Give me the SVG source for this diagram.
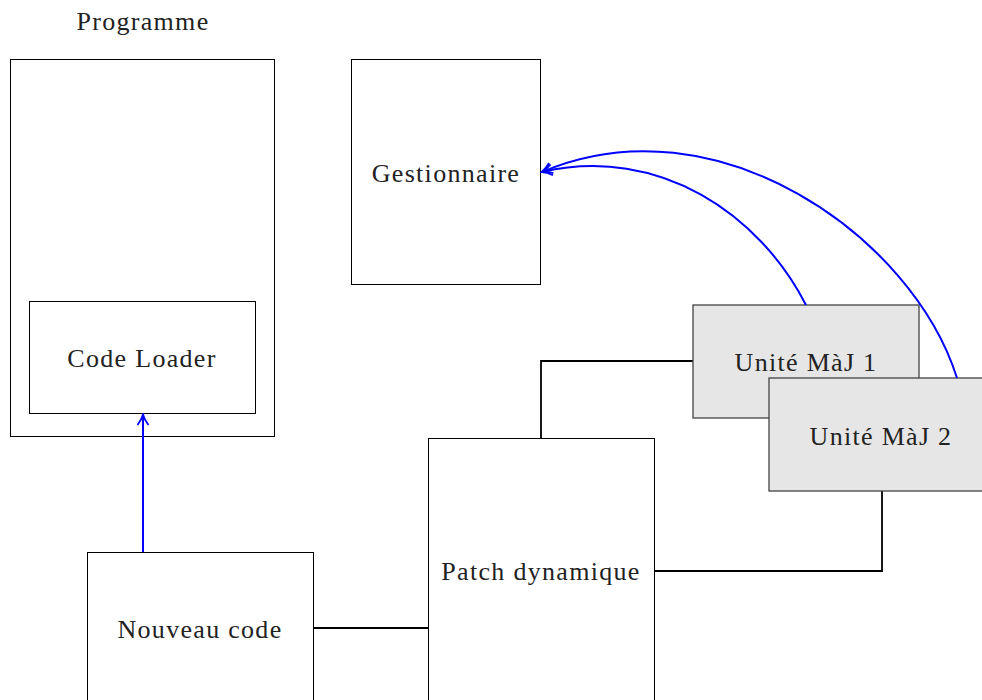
<svg xmlns="http://www.w3.org/2000/svg" width="982" height="700" viewBox="0 0 982 700">
  <style>
    .box { fill: #ffffff; stroke: #000000; stroke-width: 1; }
    .unit { fill: #e6e6e6; stroke: #444444; stroke-width: 1.3; }
    .label { font-family: "Liberation Serif", "DejaVu Serif", serif; font-size: 26px; letter-spacing: 1.3px; fill: #222222; text-anchor: middle; dominant-baseline: central; }
    .link { fill: none; stroke: #000000; stroke-width: 1.8; }
    .flow { fill: none; stroke: #0000ff; stroke-width: 2; }
  </style>
  <defs>
    <marker id="open-arrow" viewBox="0 0 14 14" refX="12" refY="7" markerWidth="14" markerHeight="14" markerUnits="userSpaceOnUse" orient="auto">
      <path d="M2,1.5 Q7,5.5 12.5,7 Q7,8.5 2,12.5" fill="none" stroke="#0000ff" stroke-width="1.8"/>
    </marker>
  </defs>

  <g id="programme">
    <rect class="box" x="10.5" y="59.5" width="264" height="377"/>
    <text class="label" x="143" y="21">Programme</text>
  </g>

  <g id="code-loader">
    <rect class="box" x="29.5" y="301.5" width="226" height="112"/>
    <text class="label" x="142" y="358">Code Loader</text>
  </g>

  <g id="gestionnaire">
    <rect class="box" x="351.5" y="59.5" width="189" height="225"/>
    <text class="label" x="446" y="173">Gestionnaire</text>
  </g>

  <g id="nouveau-code">
    <rect class="box" x="87.5" y="552.5" width="226" height="160"/>
    <text class="label" x="200" y="629">Nouveau code</text>
  </g>

  <g id="patch-dynamique">
    <rect class="box" x="428.5" y="438.5" width="226" height="280"/>
    <text class="label" x="541" y="571">Patch dynamique</text>
  </g>

  <g id="connectors">
    <line class="link" x1="313" y1="628" x2="428" y2="628"/>
    <polyline class="link" points="541,438 541,361 693,361"/>
    <polyline class="link" points="655,571 882,571 882,491"/>
    <line class="flow" x1="143" y1="552" x2="143" y2="415" marker-end="url(#open-arrow)"/>
  </g>

  <g id="unite-maj-1">
    <rect class="unit" x="693" y="305" width="226" height="113"/>
    <text class="label" x="806" y="362">Unité MàJ 1</text>
  </g>

  <g id="unite-maj-2">
    <rect class="unit" x="769" y="378" width="226" height="113"/>
    <text class="label" x="881" y="436">Unité MàJ 2</text>
  </g>

  <g id="feedback">
    <path class="flow" d="M806,305 C760,215 660,145 542,172" marker-end="url(#open-arrow)"/>
    <path class="flow" d="M957,378 C912,235 715,98 542,172" marker-end="url(#open-arrow)"/>
  </g>
</svg>
